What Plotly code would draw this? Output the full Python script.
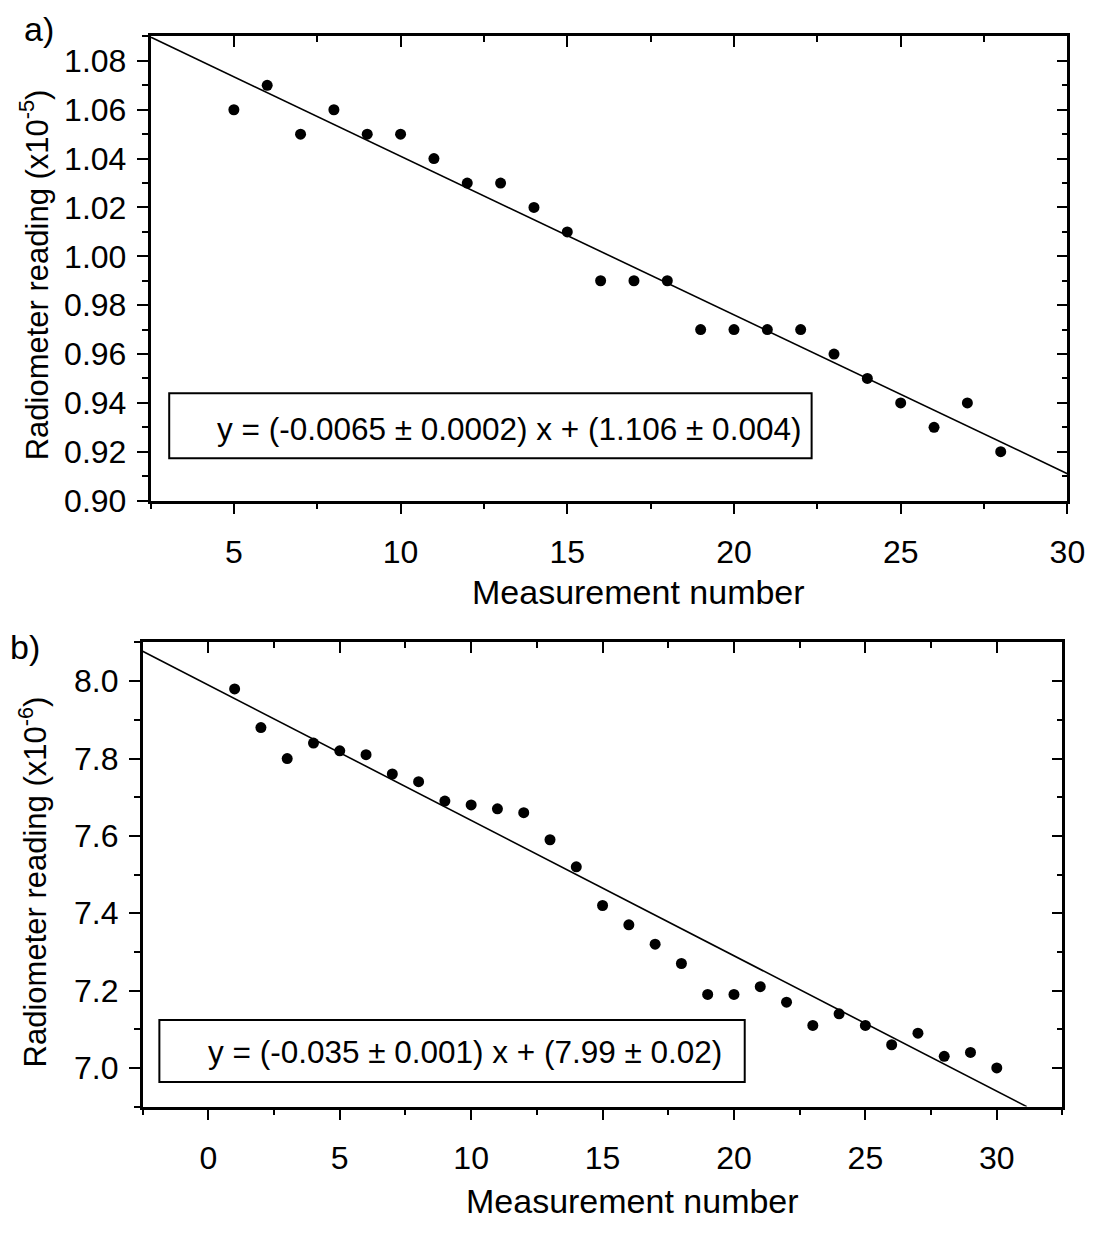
import plotly.graph_objects as go

W, H = 1110, 1234

# ---------------- data ----------------
x_a = list(range(5, 29))
y_a = [1.06, 1.07, 1.05, 1.06, 1.05, 1.05, 1.04, 1.03, 1.03, 1.02, 1.01, 0.99,
       0.99, 0.99, 0.97, 0.97, 0.97, 0.97, 0.96, 0.95, 0.94, 0.93, 0.94, 0.92]
slope_a, icpt_a = -0.0065, 1.106
xr_a = [2.5, 30]
yr_a = [0.90, 1.09]
label_a = "y = (-0.0065 ± 0.0002) x + (1.106 ± 0.004)"

x_b = list(range(1, 31))
y_b = [7.98, 7.88, 7.80, 7.84, 7.82, 7.81, 7.76, 7.74, 7.69, 7.68, 7.67, 7.66,
       7.59, 7.52, 7.42, 7.37, 7.32, 7.27, 7.19, 7.19, 7.21, 7.17, 7.11, 7.14,
       7.11, 7.06, 7.09, 7.03, 7.04, 7.00]
slope_b, icpt_b = -0.035, 7.99
xr_b = [-2.5, 32.5]
yr_b = [6.9, 8.1]
label_b = "y = (-0.035 ± 0.001) x + (7.99 ± 0.02)"

xtitle = "Measurement number"
ytitle_a = "Radiometer reading (x10<sup>-5</sup>)"
ytitle_b = "Radiometer reading (x10<sup>-6</sup>)"

FONT = "Liberation Sans, Arial, sans-serif"


def px(v):
    return v / W


def py(v):
    return 1 - v / H


fig = go.Figure()

# fit lines (computed from the fit parameters over the axis range)
fx_a = xr_a
fy_a = [slope_a * v + icpt_a for v in fx_a]
fx_b = [xr_b[0], (yr_b[0] - icpt_b) / slope_b]
fy_b = [slope_b * v + icpt_b for v in fx_b]

fig.add_trace(go.Scatter(x=fx_a, y=fy_a, mode="lines", line=dict(color="black", width=1.6),
                         xaxis="x", yaxis="y", showlegend=False))
fig.add_trace(go.Scatter(x=x_a, y=y_a, mode="markers",
                         marker=dict(color="black", size=11), xaxis="x", yaxis="y", showlegend=False))
fig.add_trace(go.Scatter(x=fx_b, y=fy_b, mode="lines", line=dict(color="black", width=1.6),
                         xaxis="x2", yaxis="y2", showlegend=False))
fig.add_trace(go.Scatter(x=x_b, y=y_b, mode="markers",
                         marker=dict(color="black", size=11), xaxis="x2", yaxis="y2", showlegend=False))

tickfont = dict(family=FONT, size=32, color="black")
common = dict(showgrid=False, zeroline=False, showline=True, linecolor="black", linewidth=2.5,
              ticks="outside", ticklen=11, tickwidth=2, tickcolor="black", tickfont=tickfont)

dom_ax = [px(153), px(1085)]
dom_ay = [py(508), py(37)]
dom_bx = [px(145), px(1080)]
dom_by = [py(1123), py(652)]

lay = dict(
    width=W, height=H, margin=dict(l=0, r=0, t=0, b=0),
    paper_bgcolor="white", plot_bgcolor="white", showlegend=False,
    xaxis=dict(domain=dom_ax, anchor="y", range=xr_a, tick0=0, dtick=5,
               minor=dict(dtick=2.5, ticks="outside", ticklen=6, tickwidth=2, tickcolor="black"),
               ticklabelstandoff=10, **common),
    yaxis=dict(domain=dom_ay, anchor="x", range=yr_a, tick0=0, dtick=0.02, tickformat=".2f",
               minor=dict(dtick=0.01, ticks="outside", ticklen=6, tickwidth=2, tickcolor="black"),
               ticklabelstandoff=4, **common),
    xaxis2=dict(domain=dom_bx, anchor="y2", range=xr_b, tick0=0, dtick=5,
                minor=dict(dtick=2.5, ticks="outside", ticklen=6, tickwidth=2, tickcolor="black"),
                ticklabelstandoff=10, **common),
    yaxis2=dict(domain=dom_by, anchor="x2", range=yr_b, tick0=0, dtick=0.2, tickformat=".1f",
                minor=dict(dtick=0.1, ticks="outside", ticklen=6, tickwidth=2, tickcolor="black"),
                ticklabelstandoff=4, **common),
)

# mirrored axes with inward ticks (top and right)
inner = dict(showgrid=False, zeroline=False, showline=True, linecolor="black", linewidth=2.5,
             ticks="inside", ticklen=11, tickwidth=2, tickcolor="black", showticklabels=False)
lay["xaxis3"] = dict(overlaying="x", side="top", anchor="y", range=xr_a, tick0=0, dtick=5,
                     minor=dict(dtick=2.5, ticks="inside", ticklen=6, tickwidth=2, tickcolor="black"), **inner)
lay["yaxis3"] = dict(overlaying="y", side="right", anchor="x", range=yr_a, tick0=0, dtick=0.02,
                     minor=dict(dtick=0.01, ticks="inside", ticklen=6, tickwidth=2, tickcolor="black"), **inner)
lay["xaxis4"] = dict(overlaying="x2", side="top", anchor="y2", range=xr_b, tick0=0, dtick=5,
                     minor=dict(dtick=2.5, ticks="inside", ticklen=6, tickwidth=2, tickcolor="black"), **inner)
lay["yaxis4"] = dict(overlaying="y2", side="right", anchor="x2", range=yr_b, tick0=0, dtick=0.2,
                     minor=dict(dtick=0.1, ticks="inside", ticklen=6, tickwidth=2, tickcolor="black"), **inner)

fig.update_layout(**lay)

# invisible helper traces so overlay axes render
fig.add_trace(go.Scatter(x=[], y=[], xaxis="x3", yaxis="y3", showlegend=False, hoverinfo="skip"))
fig.add_trace(go.Scatter(x=[], y=[], xaxis="x4", yaxis="y4", showlegend=False, hoverinfo="skip"))

# equation boxes
fig.add_shape(type="rect", xref="paper", yref="paper", x0=px(172), x1=px(825), y0=py(465), y1=py(399),
              line=dict(color="black", width=2), fillcolor="white", layer="above")
fig.add_shape(type="rect", xref="paper", yref="paper", x0=px(162), x1=px(757), y0=py(1098), y1=py(1035),
              line=dict(color="black", width=2), fillcolor="white", layer="above")

ann_font = dict(family=FONT, size=31.5, color="black")
xtitle_font = dict(family=FONT, size=34, color="black")
ytitle_font = dict(family=FONT, size=31, color="black")
anns = [
    dict(text=label_a, x=px(517), y=py(435), xref="paper", yref="paper", showarrow=False,
         xanchor="center", yanchor="middle", font=ann_font),
    dict(text=label_b, x=px(473), y=py(1068), xref="paper", yref="paper", showarrow=False,
         xanchor="center", yanchor="middle", font=ann_font),
    dict(text=xtitle, x=px(649), y=py(601), xref="paper", yref="paper", showarrow=False,
         xanchor="center", yanchor="middle", font=xtitle_font),
    dict(text=xtitle, x=px(643), y=py(1219), xref="paper", yref="paper", showarrow=False,
         xanchor="center", yanchor="middle", font=xtitle_font),
    dict(text=ytitle_a, x=px(35), y=py(279), xref="paper", yref="paper", showarrow=False,
         xanchor="center", yanchor="middle", textangle=-90, font=ytitle_font),
    dict(text=ytitle_b, x=px(33), y=py(895), xref="paper", yref="paper", showarrow=False,
         xanchor="center", yanchor="middle", textangle=-90, font=ytitle_font),
    dict(text="a)", x=px(40), y=py(29), xref="paper", yref="paper", showarrow=False,
         xanchor="center", yanchor="middle", font=dict(family=FONT, size=34, color="black")),
    dict(text="b)", x=px(25), y=py(657), xref="paper", yref="paper", showarrow=False,
         xanchor="center", yanchor="middle", font=dict(family=FONT, size=34, color="black")),
]
fig.update_layout(annotations=anns)

fig.write_html(
    "out.html",
    post_script=(
        "document.documentElement.style.overflow='hidden';"
        "document.body.style.overflow='hidden';"
        "document.body.style.margin='0';"
    ),
)
